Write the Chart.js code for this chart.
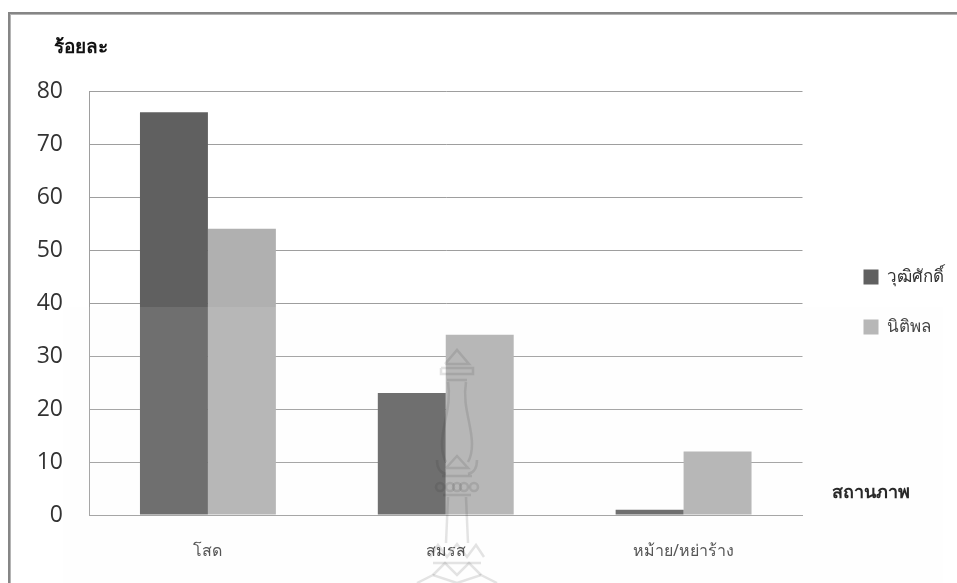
<!DOCTYPE html>
<html>
<head>
<meta charset="utf-8">
<style>
  html, body { margin: 0; padding: 0; background: #fff; }
  #wrap { position: absolute; left: 0; top: 0; width: 957px; height: 583px; }
</style>
</head>
<body>
<div id="wrap"><canvas id="statusChart" width="957" height="583"></canvas></div>
<script src="https://cdn.jsdelivr.net/npm/chart.js@4"></script>
<script>
const categories = ["โสด", "สมรส", "หม้าย/หย่าร้าง"];
const seriesNames = ["วุฒิศักดิ์", "นิติพล"];
const wuttisak = [76, 23, 1];
const nitipon = [54, 34, 12];
const yTicks = [0, 10, 20, 30, 40, 50, 60, 70, 80];

const thaiFont = "'Noto Sans', 'Liberation Sans', sans-serif";
const tickFont = "'Open Sans', 'Noto Sans', sans-serif";

// pale emblem behind the lower half of the page
function drawEmblem(c) {
    const line = pts => {
        c.beginPath();
        pts.forEach((p, i) => i ? c.lineTo(p[0], p[1]) : c.moveTo(p[0], p[1]));
        c.stroke();
    };
    c.strokeStyle = "rgba(50, 50, 50, 0.13)";
    c.lineWidth = 2.5;
    line([[445, 364], [457, 350], [469, 364], [445, 364]]);
    line([[441, 368], [473, 368], [473, 374], [441, 374], [441, 368]]);
    line([[447, 380], [467, 380]]);
    c.beginPath();
    c.moveTo(448, 382);
    c.bezierCurveTo(452, 405, 442, 425, 442, 444);
    c.quadraticCurveTo(442, 455, 446, 462);
    c.moveTo(466, 382);
    c.bezierCurveTo(462, 405, 472, 425, 472, 444);
    c.quadraticCurveTo(472, 455, 468, 462);
    c.stroke();
    line([[446, 468], [457, 456], [468, 468], [446, 468]]);
    c.beginPath();
    c.moveTo(437, 460);
    c.quadraticCurveTo(437, 472, 446, 474);
    c.moveTo(477, 460);
    c.quadraticCurveTo(477, 472, 468, 474);
    c.stroke();
    line([[442, 476], [472, 476]]);
    [440, 450, 457, 464, 474].forEach(x => {
        c.beginPath();
        c.arc(x, 487, 4, 0, Math.PI * 2);
        c.stroke();
    });
    line([[443, 495], [471, 495]]);
    line([[448, 497], [446, 543]]);
    line([[466, 497], [468, 543]]);
    line([[430, 557], [438, 545], [447, 557], [457, 544], [467, 557], [476, 545], [484, 557]]);
    line([[433, 575], [445, 563], [457, 575], [469, 563], [481, 575]]);
    line([[433, 563], [481, 563]]);
    line([[417, 583], [433, 575], [457, 583], [481, 575], [497, 583]]);
}

const framePlugin = {
    id: "frame",
    beforeDraw(chart) {
        const c = chart.ctx;
        c.save();
        c.fillStyle = "#868686";
        c.fillRect(8, 12, 949, 2);
        c.fillRect(8, 12, 2, 571);
        c.fillStyle = "#b4b4b4";
        c.fillRect(10, 14, 947, 1);
        c.fillRect(10, 14, 1, 569);
        c.restore();
    },
    afterLayout(chart) {
        // legend sits centred on the plot, not on the space under the top margin
        chart.legend.top -= 35;
        chart.legend.bottom -= 35;
    },
    afterDraw(chart) {
        const c = chart.ctx;
        c.save();
        // axis captions
        c.fillStyle = "#111";
        c.textBaseline = "middle";
        c.font = "bold 19px " + thaiFont;
        c.fillText("ร้อยละ", 54, 48);
        c.font = "bold 18px " + thaiFont;
        c.fillText("สถานภาพ", 832, 493);
        // washed-out band and emblem
        c.fillStyle = "rgba(250, 250, 250, 0.1)";
        c.fillRect(63, 307, 880, 276);
        drawEmblem(c);
        c.restore();
    }
};

const statusChart = new Chart(document.getElementById("statusChart"), {
    type: "bar",
    data: {
        labels: categories,
        datasets: [
            { label: seriesNames[0], data: wuttisak, backgroundColor: "#606060" },
            { label: seriesNames[1], data: nitipon, backgroundColor: "#b0b0b0" }
        ]
    },
    plugins: [framePlugin],
    options: {
        responsive: false,
        animation: false,
        layout: { padding: { top: 91, right: 3, bottom: 0, left: 0 } },
        datasets: { bar: { barPercentage: 1, categoryPercentage: 0.5714 } },
        plugins: {
            legend: {
                position: "right",
                labels: {
                    boxWidth: 15,
                    boxHeight: 15,
                    padding: 33,
                    color: "#333",
                    font: { family: thaiFont, size: 17 }
                }
            },
            tooltip: { enabled: false }
        },
        scales: {
            x: {
                grid: { display: false },
                border: { color: "#9e9e9e", width: 1 },
                ticks: { color: "#444", padding: 19, font: { family: thaiFont, size: 16 } },
                afterFit(axis) { axis.height = 68; }
            },
            y: {
                min: 0,
                max: 80,
                afterBuildTicks(axis) { axis.ticks = yTicks.map(v => ({ value: v })); },
                grid: { color: "#9e9e9e", drawTicks: false },
                border: { color: "#9e9e9e", width: 1 },
                ticks: { color: "#333", padding: 26, font: { family: tickFont, size: 23 } },
                afterFit(axis) { axis.width = 89; }
            },
            // empty strip between the plot and the legend
            spacer: {
                position: "right",
                grid: { display: false },
                border: { display: false },
                ticks: { display: false },
                afterFit(axis) { axis.width = 28; }
            }
        }
    }
});
</script>
</body>
</html>
